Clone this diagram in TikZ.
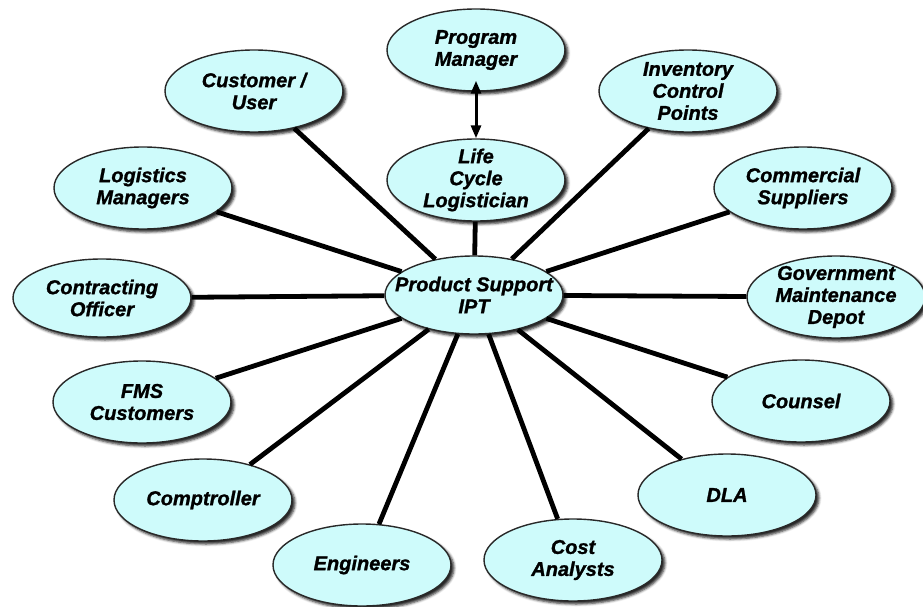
\documentclass[tikz,border=0pt]{standalone}
\usepackage{fontspec}
\setmainfont{Liberation Sans}[BoldItalicFeatures={FakeBold=1.2}]
\usetikzlibrary{shapes.geometric,arrows.meta,shadows.blur}
\definecolor{bubblefill}{RGB}{206,251,251}
\definecolor{rim}{RGB}{40,40,40}
\begin{document}
\begin{tikzpicture}[x=1pt,y=-1pt,
  bubble/.style={ellipse, draw=rim, line width=1.4pt, fill=bubblefill,
    minimum width=178pt, minimum height=82pt, inner sep=0pt,
    blur shadow={shadow xshift=3pt, shadow yshift=-3pt,
      shadow blur radius=2.5pt, shadow opacity=85}},
  caption/.style={align=center, inner sep=0pt,
    font=\bfseries\itshape\fontsize{20}{22}\selectfont},
  spoke/.style={line width=4.8pt, black},
  link/.style={line width=3pt,
    {Triangle[length=13pt,width=10pt]}-{Triangle[length=13pt,width=10pt]}}]
\useasboundingbox (0,0) rectangle (923,607);

% hub and the chain above it
\node[bubble] (pm)  at (476,50)  {};
\node[bubble] (lcl) at (476,180) {};
\node[bubble, minimum height=78pt] (ipt) at (474,295) {};

% stakeholders around the hub
\node[bubble] (cust) at (254,91)  {};
\node[bubble] (logm) at (143,188) {};
\node[bubble, minimum height=78pt] (co) at (102,298) {};
\node[bubble] (fms)  at (142,402) {};
\node[bubble] (comp) at (203,500) {};
\node[bubble] (eng)  at (362,565) {};
\node[bubble] (cost) at (573,560) {};
\node[bubble] (dla)  at (727,495) {};
\node[bubble] (coun) at (801,401) {};
\node[bubble] (gmd)  at (836,297) {};
\node[bubble] (coms) at (803,188) {};
\node[bubble] (icp)  at (688,91)  {};

% captions
\node[caption] (pm-t)   at (pm)   {Program\\Manager};
\node[caption] (lcl-t)  at (lcl)  {Life\\Cycle\\Logistician};
\node[caption] (ipt-t)  at (ipt)  {Product Support\\IPT};
\node[caption] (cust-t) at (cust) {Customer /\\User};
\node[caption] (logm-t) at (logm) {Logistics\\Managers};
\node[caption] (co-t)   at (co)   {Contracting\\Officer};
\node[caption] (fms-t)  at (fms)  {FMS\\Customers};
\node[caption] (comp-t) at (comp) {Comptroller};
\node[caption] (eng-t)  at (eng)  {Engineers};
\node[caption] (cost-t) at (cost) {Cost\\Analysts};
\node[caption] (dla-t)  at (dla)  {DLA};
\node[caption] (coun-t) at (coun) {Counsel};
\node[caption] (gmd-t)  at (gmd)  {Government\\Maintenance\\Depot};
\node[caption] (coms-t) at (coms) {Commercial\\Suppliers};
\node[caption] (icp-t)  at (icp)  {Inventory\\Control\\Points};

% connectors
\foreach \n in {lcl,cust,logm,co,fms,comp,eng,cost,dla,coun,gmd,coms,icp}
  \draw[spoke] (ipt) -- (\n);
\draw[link] ([yshift=11pt]pm.south) -- (lcl.north);
\end{tikzpicture}
\end{document}
